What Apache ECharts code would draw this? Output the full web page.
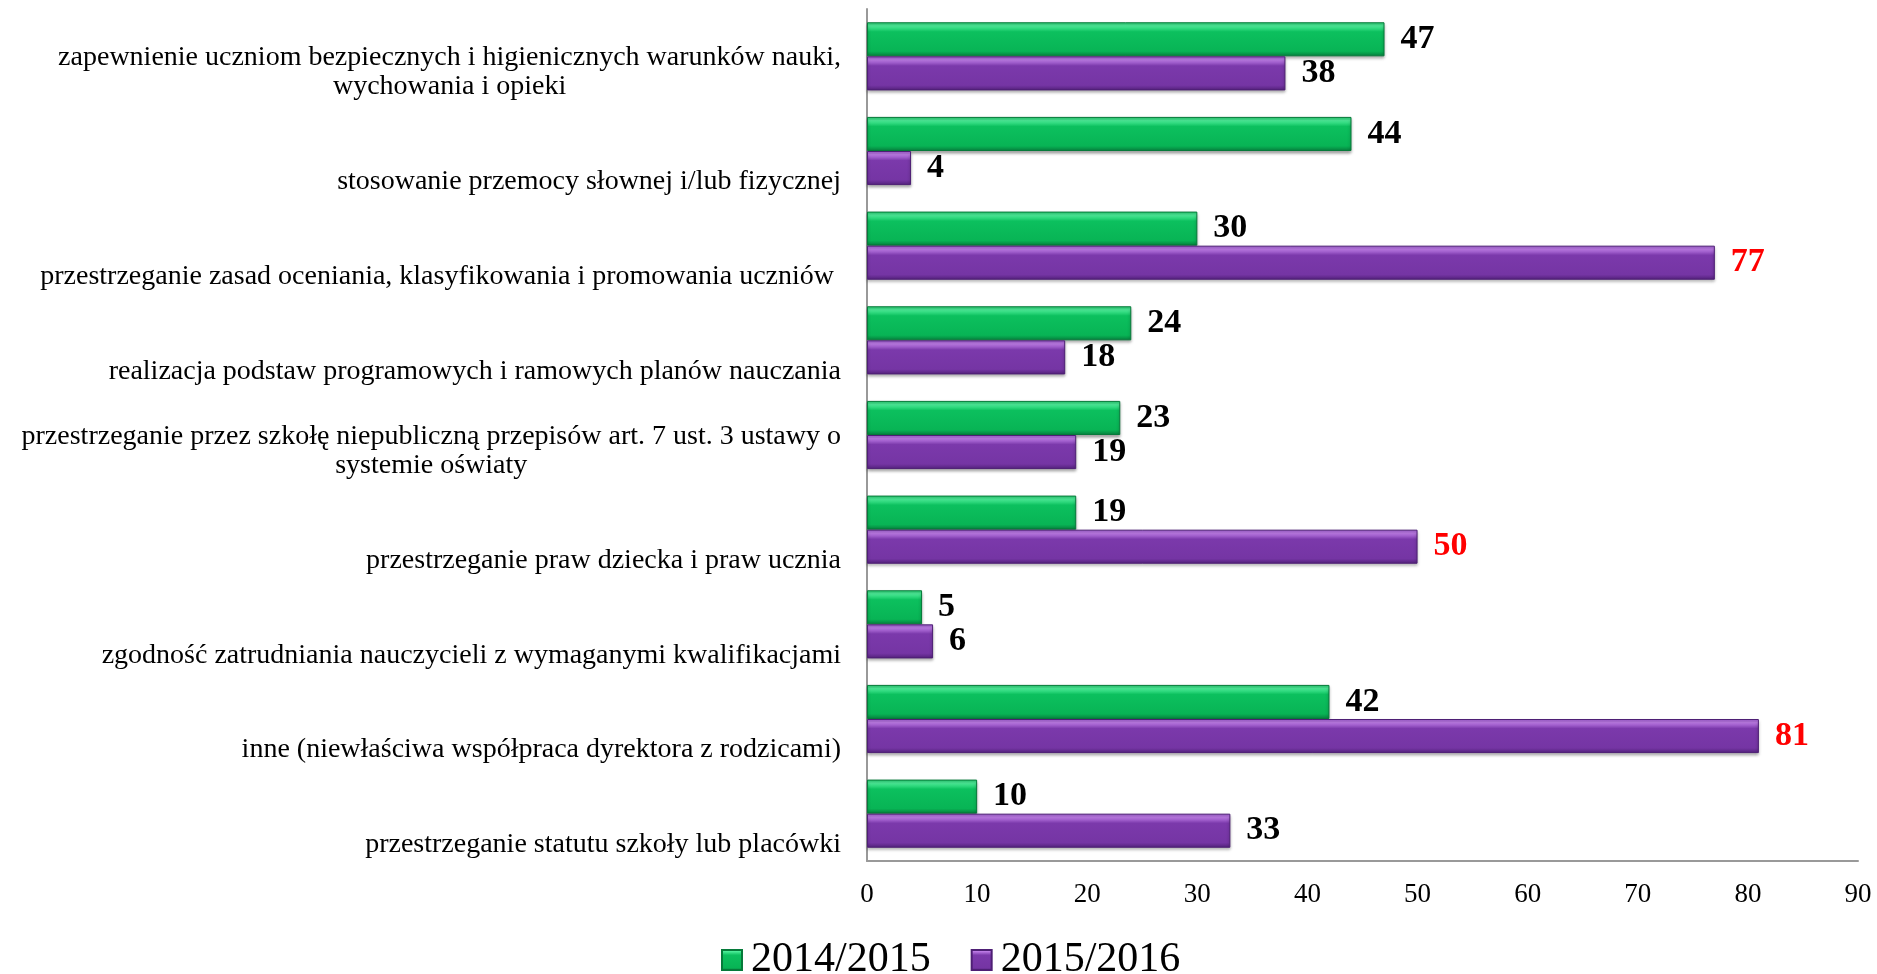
<!DOCTYPE html>
<html lang="pl">
<head>
    <meta charset="UTF-8">
    <title>Zakres skarg</title>
    <script src="https://cdn.jsdelivr.net/npm/echarts@6/dist/echarts.min.js"></script>
    <style>
        html, body { margin: 0; padding: 0; background: #fff; }
        #chart { width: 1877px; height: 974px; }
    </style>
</head>
<body>
    <div id="chart"></div>
    <script>
        // kategorie od góry do dołu
        const categories = [
            'zapewnienie uczniom bezpiecznych i higienicznych warunków nauki,\nwychowania i opieki',
            'stosowanie przemocy słownej i/lub fizycznej',
            'przestrzeganie zasad oceniania, klasyfikowania i promowania uczniów ',
            'realizacja podstaw programowych i ramowych planów nauczania',
            'przestrzeganie przez szkołę niepubliczną przepisów art. 7 ust. 3 ustawy o\nsystemie oświaty',
            'przestrzeganie praw dziecka i praw ucznia',
            'zgodność zatrudniania nauczycieli z wymaganymi kwalifikacjami',
            'inne (niewłaściwa współpraca dyrektora z rodzicami)',
            'przestrzeganie statutu szkoły lub placówki'
        ];
        const seriesNames = ['2014/2015', '2015/2016'];
        const values2014 = [47, 44, 30, 24, 23, 19, 5, 42, 10];
        const values2015 = [38, 4, 77, 18, 19, 50, 6, 81, 33];
        // indeksy wyróżnione na czerwono (2015/2016)
        const highlighted = [2, 5, 7];
        const xTicks = { min: 0, max: 90, interval: 10 };

        const font = 'Liberation Serif, Times New Roman, serif';

        const greenFill = new echarts.graphic.LinearGradient(0, 0, 0, 1, [
            { offset: 0, color: '#22c86c' },
            { offset: 0.1, color: '#4ff09b' },
            { offset: 0.28, color: '#0cc05e' },
            { offset: 0.85, color: '#08b455' },
            { offset: 1, color: '#067d3c' }
        ]);
        const purpleFill = new echarts.graphic.LinearGradient(0, 0, 0, 1, [
            { offset: 0, color: '#9a58cc' },
            { offset: 0.1, color: '#c07ee9' },
            { offset: 0.28, color: '#7b39ab' },
            { offset: 0.85, color: '#7535a4' },
            { offset: 1, color: '#52217a' }
        ]);

        // etykiety osi Y: odstęp u góry przesuwa tekst w dół, jak w oryginale
        function catLabel(value) {
            const lines = value.split('\n');
            if (lines.length === 1) return '{p1| }\n{s|' + value + '}';
            return '{p2| }\n{s|' + lines[0] + '}\n{c|' + lines[1] + '}';
        }

        const labelBase = {
            show: true,
            position: 'right',
            distance: 16,
            fontFamily: font,
            fontWeight: 'bold',
            fontSize: 34,
            color: '#000'
        };

        const chart = echarts.init(document.getElementById('chart'));
        chart.setOption({
            animation: false,
            backgroundColor: '#fff',
            grid: { left: 867, right: 19, top: 9, bottom: 113 },
            legend: {
                data: seriesNames,
                left: 716,
                top: 934,
                icon: 'rect',
                itemWidth: 20,
                itemHeight: 20,
                itemGap: 40,
                textStyle: { fontFamily: font, fontSize: 42, color: '#000', padding: [0, 0, 0, 4] }
            },
            xAxis: {
                type: 'value',
                min: xTicks.min,
                max: xTicks.max,
                interval: xTicks.interval,
                splitLine: { show: false },
                axisTick: { show: false },
                axisLine: { show: true, lineStyle: { color: '#999', width: 2 } },
                axisLabel: { fontFamily: font, fontSize: 27, color: '#000', margin: 20 }
            },
            yAxis: {
                type: 'category',
                data: categories,
                inverse: true,
                axisTick: { show: false },
                axisLine: { show: true, lineStyle: { color: '#999', width: 2 } },
                axisLabel: {
                    margin: 26,
                    formatter: catLabel,
                    rich: {
                        p1: { fontSize: 10, lineHeight: 62 },
                        p2: { fontSize: 10, lineHeight: 32 },
                        s: { fontFamily: font, fontSize: 28, color: '#000', lineHeight: 29 },
                        c: { fontFamily: font, fontSize: 28, color: '#000', lineHeight: 29, align: 'center' }
                    }
                }
            },
            series: [
                {
                    name: seriesNames[0],
                    type: 'bar',
                    data: values2014,
                    barGap: '0%',
                    barCategoryGap: '28%',
                    itemStyle: {
                        color: greenFill,
                        borderColor: '#067a3a',
                        borderWidth: 1,
                        shadowColor: 'rgba(0,0,0,0.35)',
                        shadowBlur: 3,
                        shadowOffsetY: 2
                    },
                    label: labelBase
                },
                {
                    name: seriesNames[1],
                    type: 'bar',
                    data: values2015.map((v, i) => highlighted.includes(i)
                        ? { value: v, label: { color: '#ff0000' } }
                        : v),
                    barGap: '0%',
                    barCategoryGap: '28%',
                    itemStyle: {
                        color: purpleFill,
                        borderColor: '#4e1f75',
                        borderWidth: 1,
                        shadowColor: 'rgba(0,0,0,0.35)',
                        shadowBlur: 3,
                        shadowOffsetY: 2
                    },
                    label: labelBase
                }
            ]
        });
    </script>
</body>
</html>
